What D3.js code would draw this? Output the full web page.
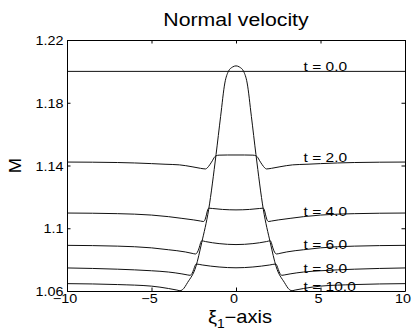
<!DOCTYPE html>
<html>
<head>
<meta charset="utf-8">
<script src="https://cdn.jsdelivr.net/npm/d3@7"></script>
<style>
    body { margin: 0; background: #fff; }
    text { font-family: "Liberation Sans", Arial, sans-serif; fill: #000; }
</style>
</head>
<body>
<div id="chart"></div>
<script>
// values (M against xi_1)
const xTicks = [-10, -5, 0, 5, 10];
const xTickLabels = ["\u221210", "\u22125", "0", "5", "10"];
const yTicks = [1.06, 1.1, 1.14, 1.18, 1.22];
const yTickLabels = ["1.06", "1.1", "1.14", "1.18", "1.22"];

const bellX = [-3.5, -3.16, -2.86, -2.37, -2.03, -1.62, -1.18, -0.91, -0.66, -0.45, -0.2, 0, 0.2, 0.45, 0.66, 0.91, 1.18, 1.62, 2.03, 2.37, 2.86, 3.16, 3.5];
const bellM = [1.0595, 1.0609, 1.0655, 1.0757, 1.0908, 1.1118, 1.147, 1.1713, 1.1926, 1.2, 1.2028, 1.2035, 1.2028, 1.2, 1.1926, 1.1713, 1.147, 1.1118, 1.0908, 1.0757, 1.0655, 1.0609, 1.0595];

const t0X = [-10, 10];
const t0M = [1.2, 1.2];

const t2X = [-10, -7, -5, -4.2, -3.35, -2.6, -2.1, -1.8, -1.7, -1.55, -1.4, -1.28, -1.18, -1.0, -0.5, 0, 0.5, 1.0, 1.18, 1.28, 1.4, 1.55, 1.7, 1.8, 2.1, 2.6, 3.35, 4.2, 5, 7, 10];
const t2M = [1.1422, 1.1419, 1.1412, 1.1408, 1.1404, 1.1392, 1.1382, 1.1378, 1.1385, 1.1405, 1.143, 1.1452, 1.1462, 1.1466, 1.1467, 1.1467, 1.1467, 1.1466, 1.1462, 1.1452, 1.143, 1.1405, 1.1385, 1.1378, 1.1382, 1.1392, 1.1404, 1.1408, 1.1412, 1.1419, 1.1422];

const t4X = [-10, -7, -5, -4, -3.2, -2.5, -2.1, -1.92, -1.82, -1.74, -1.68, -1.6, -1.4, -0.8, 0, 0.8, 1.4, 1.6, 1.68, 1.74, 1.82, 1.92, 2.1, 2.5, 3.2, 4, 5, 7, 10];
const t4M = [1.1097, 1.1093, 1.1084, 1.1074, 1.1063, 1.1053, 1.1046, 1.1043, 1.1058, 1.109, 1.1116, 1.1128, 1.1126, 1.112, 1.1117, 1.112, 1.1126, 1.1128, 1.1116, 1.109, 1.1058, 1.1043, 1.1046, 1.1053, 1.1063, 1.1074, 1.1084, 1.1093, 1.1097];

const t6X = [-10, -7, -5, -4, -3, -2.6, -2.4, -2.28, -2.18, -2.1, -2.03, -1.8, -1, 0, 1, 1.8, 2.03, 2.1, 2.18, 2.28, 2.4, 2.6, 3, 4, 5, 7, 10];
const t6M = [1.0891, 1.0886, 1.0875, 1.0863, 1.0849, 1.084, 1.0836, 1.0848, 1.0875, 1.0905, 1.092, 1.0915, 1.0902, 1.0896, 1.0902, 1.0915, 1.092, 1.0905, 1.0875, 1.0848, 1.0836, 1.084, 1.0849, 1.0863, 1.0875, 1.0886, 1.0891];

const t8X = [-10, -7, -5, -4, -3.2, -2.85, -2.72, -2.6, -2.5, -2.42, -2.36, -2, -1, 0, 1, 2, 2.36, 2.42, 2.5, 2.6, 2.72, 2.85, 3.2, 4, 5, 7, 10];
const t8M = [1.0747, 1.0739, 1.0729, 1.0721, 1.0709, 1.0702, 1.07, 1.0712, 1.0738, 1.0762, 1.0772, 1.0766, 1.0753, 1.0748, 1.0753, 1.0766, 1.0772, 1.0762, 1.0738, 1.0712, 1.07, 1.0702, 1.0709, 1.0721, 1.0729, 1.0739, 1.0747];

const t10X = [-10, -7, -5, -4, -3.5, -3.2, -2.9, -2.6, 0, 2.6, 2.9, 3.2, 3.5, 4, 5, 7, 10];
const t10M = [1.0647, 1.0641, 1.0631, 1.0616, 1.0606, 1.0598, 1.0586, 1.0565, 1.0565, 1.0565, 1.0586, 1.0598, 1.0606, 1.0616, 1.0631, 1.0641, 1.0647];

const timeLabels = ["t = 0.0", "t = 2.0", "t = 4.0", "t = 6.0", "t = 8.0", "t = 10.0"];
const labelX = [4, 4, 4, 4, 4, 4];
const labelM = [1.2, 1.1425, 1.108, 1.0868, 1.0717, 1.0597];


class VelocityPlot {

    constructor(parentElement, curves) {
        this.parentElement = parentElement;
        this.curves = curves;
        this.canvas = {width: 417, height: 332};

        this.initVis();
    }

    initVis() {
        let vis = this;

        vis.margin = {top: 40, right: 12, bottom: 41, left: 67};
        vis.width = vis.canvas.width - vis.margin.left - vis.margin.right;
        vis.height = vis.canvas.height - vis.margin.top - vis.margin.bottom;
        vis.stretch = 1.15;   // glyphs in the figure are wider than Helvetica

        vis.svg = d3.select(vis.parentElement)
            .append("svg")
            .attr("width", vis.canvas.width)
            .attr("height", vis.canvas.height);

        vis.plot = vis.svg.append("g")
            .attr("transform", "translate(" + vis.margin.left + "," + vis.margin.top + ")");

        vis.x = d3.scaleLinear().domain([-10, 10]).range([0, vis.width]);
        vis.y = d3.scaleLinear().domain([1.06, 1.22]).range([vis.height, 0]);

        vis.plot.append("clipPath")
            .attr("id", "clip")
            .append("rect")
            .attr("width", vis.width)
            .attr("height", vis.height);

        vis.updateVis();
    }

    // text placed at (x, y) and widened horizontally
    wide(sel, x, y, rot) {
        let vis = this;
        sel.attr("transform", "translate(" + x + "," + y + ")" + (rot ? " rotate(" + rot + ")" : "") + " scale(" + vis.stretch + ",1)");
    }

    updateVis() {
        let vis = this;

        // curves
        let line = d3.line()
            .x(d => vis.x(d[0]))
            .y(d => vis.y(d[1]))
            .curve(d3.curveMonotoneX);

        vis.plot.append("g")
            .attr("clip-path", "url(#clip)")
            .selectAll("path")
            .data(vis.curves)
            .enter()
            .append("path")
            .attr("d", d => line(d3.zip(d.x, d.m)))
            .attr("fill", "none")
            .attr("stroke", "#111")
            .attr("stroke-width", 1);

        // box with inward ticks on all four sides
        let tick = 3.5;
        vis.plot.append("g").attr("transform", "translate(0," + vis.height + ")")
            .call(d3.axisBottom(vis.x).tickValues(xTicks).tickSizeInner(-tick).tickSizeOuter(0).tickFormat(""));
        vis.plot.append("g")
            .call(d3.axisTop(vis.x).tickValues(xTicks).tickSizeInner(-tick).tickSizeOuter(0).tickFormat(""));
        vis.plot.append("g")
            .call(d3.axisLeft(vis.y).tickValues(yTicks).tickSizeInner(-tick).tickSizeOuter(0).tickFormat(""));
        vis.plot.append("g").attr("transform", "translate(" + vis.width + ",0)")
            .call(d3.axisRight(vis.y).tickValues(yTicks).tickSizeInner(-tick).tickSizeOuter(0).tickFormat(""));
        vis.plot.selectAll(".domain, .tick line").attr("stroke", "#000");

        // tick labels
        vis.plot.append("g").selectAll("text")
            .data(xTicks)
            .enter()
            .append("text")
            .attr("text-anchor", "middle")
            .style("font-size", "12.5px")
            .text((d, i) => xTickLabels[i])
            .each(function (d) { vis.wide(d3.select(this), vis.x(d) - 2, vis.height + 12); });

        vis.plot.append("g").selectAll("text")
            .data(yTicks)
            .enter()
            .append("text")
            .attr("text-anchor", "end")
            .style("font-size", "12.5px")
            .text((d, i) => yTickLabels[i])
            .each(function (d) { vis.wide(d3.select(this), -3.5, vis.y(d) + 5); });

        // t = ... labels
        vis.plot.append("g").selectAll("text")
            .data(timeLabels)
            .enter()
            .append("text")
            .style("font-size", "13.5px")
            .text(d => d)
            .each(function (d, i) { vis.wide(d3.select(this), vis.x(labelX[i]), vis.y(labelM[i])); });

        // title and axis labels
        let title = vis.svg.append("text")
            .attr("text-anchor", "middle")
            .style("font-size", "18.5px")
            .text("Normal velocity");
        vis.wide(title, vis.margin.left + vis.width / 2, 25.7);

        let xlab = vis.svg.append("text")
            .attr("text-anchor", "middle")
            .style("font-size", "17.5px");
        xlab.append("tspan").text("\u03be");
        xlab.append("tspan").attr("dy", 5).style("font-size", "12px").text("1");
        xlab.append("tspan").attr("dy", -5).text("\u2212axis");
        vis.wide(xlab, 240, 323.3);

        let ylab = vis.svg.append("text")
            .attr("text-anchor", "middle")
            .style("font-size", "16px")
            .text("M");
        vis.wide(ylab, 21, vis.margin.top + vis.height / 2, -90);
    }
}

let curves = [
    {x: t0X, m: t0M},
    {x: bellX, m: bellM},
    {x: t2X, m: t2M},
    {x: t4X, m: t4M},
    {x: t6X, m: t6M},
    {x: t8X, m: t8M},
    {x: t10X, m: t10M}
];

new VelocityPlot("#chart", curves);
</script>
</body>
</html>
